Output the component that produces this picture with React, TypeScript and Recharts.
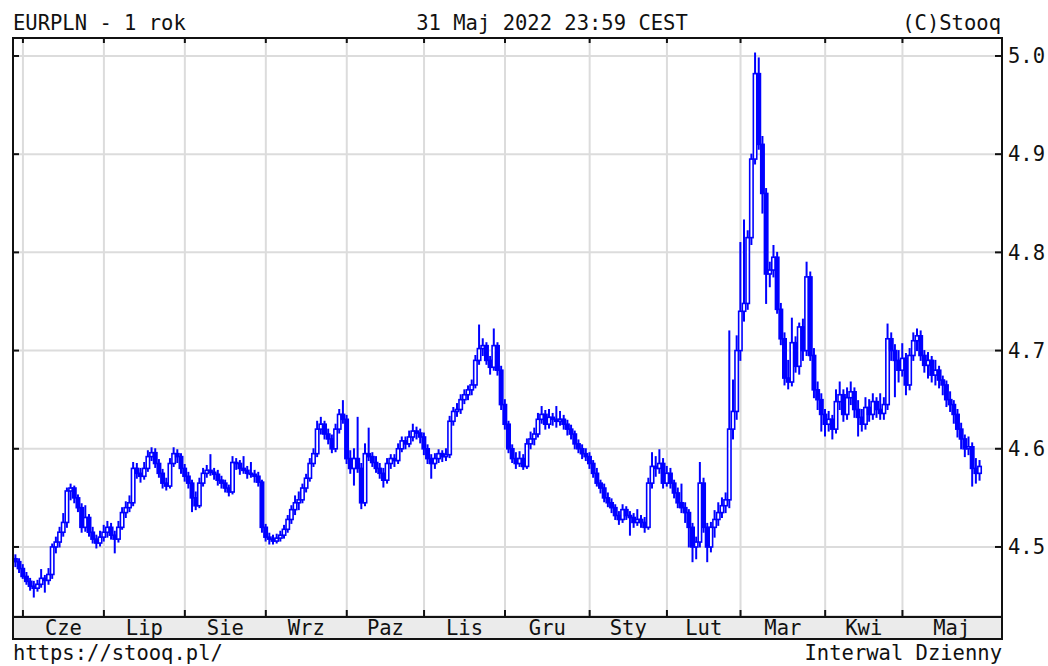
import React from "react";
import { ComposedChart, Bar, XAxis, YAxis, CartesianGrid, ReferenceLine } from "recharts";

type Row = [number, number, number, number]; // open, high, low, close

const may21: Row[] = [
  [4.488, 4.492, 4.480, 4.485], [4.485, 4.488, 4.474, 4.478],
];
const jun21: Row[] = [
  [4.478, 4.482, 4.468, 4.470], [4.470, 4.474, 4.462, 4.465], [4.465, 4.468, 4.456, 4.460], [4.460, 4.465, 4.449, 4.458],
  [4.458, 4.466, 4.455, 4.462], [4.462, 4.477, 4.459, 4.468], [4.468, 4.471, 4.454, 4.466], [4.466, 4.478, 4.462, 4.472],
  [4.472, 4.503, 4.468, 4.500], [4.500, 4.510, 4.494, 4.505], [4.505, 4.520, 4.500, 4.515], [4.515, 4.534, 4.511, 4.525],
  [4.525, 4.560, 4.520, 4.557], [4.557, 4.564, 4.548, 4.560], [4.560, 4.562, 4.545, 4.550], [4.550, 4.553, 4.536, 4.540],
  [4.540, 4.544, 4.515, 4.520], [4.520, 4.542, 4.516, 4.530], [4.530, 4.533, 4.511, 4.515], [4.515, 4.520, 4.504, 4.508],
  [4.508, 4.512, 4.499, 4.504], [4.504, 4.516, 4.501, 4.510],
];
const jul21: Row[] = [
  [4.510, 4.522, 4.506, 4.515], [4.515, 4.526, 4.510, 4.520], [4.520, 4.524, 4.508, 4.512], [4.512, 4.516, 4.494, 4.508],
  [4.508, 4.526, 4.505, 4.520], [4.520, 4.540, 4.518, 4.535], [4.535, 4.546, 4.530, 4.540], [4.540, 4.552, 4.536, 4.545],
  [4.545, 4.586, 4.542, 4.580], [4.580, 4.585, 4.570, 4.575], [4.575, 4.580, 4.566, 4.572], [4.572, 4.586, 4.569, 4.580],
  [4.580, 4.598, 4.577, 4.592], [4.592, 4.601, 4.588, 4.596], [4.596, 4.600, 4.581, 4.585], [4.585, 4.589, 4.571, 4.575],
  [4.575, 4.579, 4.560, 4.565], [4.565, 4.570, 4.558, 4.562], [4.562, 4.590, 4.560, 4.585], [4.585, 4.601, 4.582, 4.595],
  [4.595, 4.599, 4.586, 4.592], [4.592, 4.595, 4.575, 4.580],
];
const aug21: Row[] = [
  [4.580, 4.584, 4.567, 4.572], [4.572, 4.576, 4.560, 4.565], [4.565, 4.568, 4.536, 4.550], [4.550, 4.556, 4.538, 4.542],
  [4.542, 4.570, 4.540, 4.565], [4.565, 4.580, 4.562, 4.575], [4.575, 4.583, 4.571, 4.578], [4.578, 4.594, 4.573, 4.576],
  [4.576, 4.580, 4.569, 4.574], [4.574, 4.578, 4.563, 4.568], [4.568, 4.572, 4.560, 4.565], [4.565, 4.568, 4.556, 4.560],
  [4.560, 4.563, 4.552, 4.556], [4.556, 4.592, 4.554, 4.586], [4.586, 4.590, 4.579, 4.585], [4.585, 4.588, 4.574, 4.580],
  [4.580, 4.592, 4.575, 4.578], [4.578, 4.582, 4.570, 4.575], [4.575, 4.586, 4.571, 4.574], [4.574, 4.578, 4.566, 4.572],
  [4.572, 4.576, 4.562, 4.566], [4.566, 4.568, 4.515, 4.520],
];
const sep21: Row[] = [
  [4.520, 4.523, 4.506, 4.510], [4.510, 4.514, 4.503, 4.508], [4.508, 4.512, 4.503, 4.506], [4.506, 4.513, 4.504, 4.509],
  [4.509, 4.516, 4.506, 4.512], [4.512, 4.522, 4.509, 4.518], [4.518, 4.532, 4.515, 4.528], [4.528, 4.542, 4.524, 4.538],
  [4.538, 4.552, 4.533, 4.545], [4.545, 4.556, 4.538, 4.548], [4.548, 4.564, 4.545, 4.560], [4.560, 4.574, 4.556, 4.570],
  [4.570, 4.590, 4.567, 4.585], [4.585, 4.600, 4.582, 4.595], [4.595, 4.628, 4.592, 4.620], [4.620, 4.632, 4.615, 4.625],
  [4.625, 4.628, 4.610, 4.615], [4.615, 4.620, 4.605, 4.610], [4.610, 4.614, 4.596, 4.600], [4.600, 4.625, 4.597, 4.620],
  [4.620, 4.640, 4.616, 4.635], [4.635, 4.649, 4.626, 4.630],
];
const oct21: Row[] = [
  [4.630, 4.634, 4.585, 4.590], [4.590, 4.598, 4.575, 4.580], [4.580, 4.600, 4.563, 4.590], [4.590, 4.632, 4.576, 4.580],
  [4.580, 4.585, 4.539, 4.545], [4.545, 4.605, 4.542, 4.595], [4.595, 4.621, 4.588, 4.592], [4.592, 4.596, 4.582, 4.586],
  [4.586, 4.592, 4.576, 4.580], [4.580, 4.585, 4.570, 4.575], [4.575, 4.580, 4.561, 4.568], [4.568, 4.590, 4.565, 4.585],
  [4.585, 4.594, 4.580, 4.590], [4.590, 4.594, 4.582, 4.588], [4.588, 4.605, 4.585, 4.600], [4.600, 4.612, 4.597, 4.608],
  [4.608, 4.612, 4.600, 4.605], [4.605, 4.618, 4.602, 4.612], [4.612, 4.625, 4.608, 4.618], [4.618, 4.622, 4.610, 4.616],
  [4.616, 4.620, 4.606, 4.612],
];
const nov21: Row[] = [
  [4.612, 4.616, 4.594, 4.600], [4.600, 4.604, 4.585, 4.590], [4.590, 4.594, 4.570, 4.585], [4.585, 4.595, 4.580, 4.590],
  [4.590, 4.599, 4.586, 4.595], [4.595, 4.598, 4.587, 4.592], [4.592, 4.600, 4.588, 4.594], [4.594, 4.633, 4.591, 4.628],
  [4.628, 4.642, 4.624, 4.638], [4.638, 4.646, 4.633, 4.640], [4.640, 4.655, 4.636, 4.650], [4.650, 4.660, 4.646, 4.655],
  [4.655, 4.664, 4.650, 4.660], [4.660, 4.670, 4.655, 4.665], [4.665, 4.695, 4.662, 4.690], [4.690, 4.726, 4.686, 4.702],
  [4.702, 4.712, 4.695, 4.705], [4.705, 4.708, 4.686, 4.690], [4.690, 4.694, 4.676, 4.683], [4.683, 4.722, 4.680, 4.705],
  [4.705, 4.708, 4.675, 4.680], [4.680, 4.684, 4.640, 4.645],
];
const dec21: Row[] = [
  [4.645, 4.650, 4.620, 4.625], [4.625, 4.628, 4.596, 4.600], [4.600, 4.604, 4.586, 4.590], [4.590, 4.596, 4.580, 4.585],
  [4.585, 4.597, 4.582, 4.590], [4.590, 4.594, 4.579, 4.582], [4.582, 4.610, 4.580, 4.605], [4.605, 4.617, 4.600, 4.610],
  [4.610, 4.621, 4.604, 4.615], [4.615, 4.636, 4.612, 4.630], [4.630, 4.643, 4.626, 4.635], [4.635, 4.639, 4.620, 4.625],
  [4.625, 4.640, 4.621, 4.632], [4.632, 4.636, 4.624, 4.630], [4.630, 4.643, 4.622, 4.628], [4.628, 4.638, 4.624, 4.630],
  [4.630, 4.634, 4.620, 4.625], [4.625, 4.629, 4.614, 4.620], [4.620, 4.624, 4.610, 4.615], [4.615, 4.618, 4.600, 4.605],
  [4.605, 4.609, 4.596, 4.600], [4.600, 4.604, 4.590, 4.595], [4.595, 4.600, 4.588, 4.592],
];
const jan22: Row[] = [
  [4.592, 4.596, 4.580, 4.585], [4.585, 4.588, 4.571, 4.575], [4.575, 4.580, 4.562, 4.565], [4.565, 4.568, 4.555, 4.560],
  [4.560, 4.564, 4.546, 4.550], [4.550, 4.555, 4.541, 4.545], [4.545, 4.549, 4.535, 4.540], [4.540, 4.543, 4.528, 4.532],
  [4.532, 4.536, 4.523, 4.528], [4.528, 4.543, 4.525, 4.538], [4.538, 4.541, 4.528, 4.532], [4.532, 4.536, 4.512, 4.530],
  [4.530, 4.534, 4.520, 4.525], [4.525, 4.538, 4.522, 4.528], [4.528, 4.532, 4.520, 4.525], [4.525, 4.530, 4.515, 4.520],
  [4.520, 4.570, 4.518, 4.565], [4.565, 4.596, 4.560, 4.582], [4.582, 4.592, 4.572, 4.580], [4.580, 4.599, 4.575, 4.585],
  [4.585, 4.590, 4.560, 4.565],
];
const feb22: Row[] = [
  [4.565, 4.582, 4.562, 4.575], [4.575, 4.580, 4.560, 4.565], [4.565, 4.568, 4.550, 4.555], [4.555, 4.560, 4.540, 4.545],
  [4.545, 4.564, 4.535, 4.540], [4.540, 4.545, 4.525, 4.535], [4.535, 4.538, 4.500, 4.520], [4.520, 4.524, 4.485, 4.500],
  [4.500, 4.510, 4.488, 4.505], [4.505, 4.586, 4.500, 4.565], [4.565, 4.570, 4.515, 4.520], [4.520, 4.524, 4.485, 4.500],
  [4.500, 4.525, 4.495, 4.520], [4.520, 4.537, 4.510, 4.528], [4.528, 4.545, 4.522, 4.535], [4.535, 4.550, 4.530, 4.542],
  [4.542, 4.555, 4.535, 4.548], [4.548, 4.720, 4.540, 4.620], [4.620, 4.670, 4.610, 4.638], [4.638, 4.715, 4.630, 4.700],
];
const mar22: Row[] = [
  [4.700, 4.810, 4.690, 4.740], [4.740, 4.833, 4.730, 4.748], [4.748, 4.822, 4.742, 4.815], [4.815, 4.900, 4.808, 4.895],
  [4.895, 5.003, 4.890, 4.982], [4.982, 4.998, 4.905, 4.910], [4.910, 4.918, 4.840, 4.860], [4.860, 4.865, 4.748, 4.778],
  [4.778, 4.790, 4.765, 4.782], [4.782, 4.807, 4.775, 4.795], [4.795, 4.800, 4.738, 4.742], [4.742, 4.748, 4.706, 4.712],
  [4.712, 4.718, 4.665, 4.672], [4.672, 4.690, 4.661, 4.668], [4.668, 4.733, 4.664, 4.708], [4.708, 4.714, 4.678, 4.684],
  [4.684, 4.728, 4.676, 4.724], [4.724, 4.732, 4.690, 4.700], [4.700, 4.790, 4.695, 4.775], [4.775, 4.780, 4.690, 4.695],
  [4.695, 4.702, 4.652, 4.660], [4.660, 4.668, 4.640, 4.650], [4.650, 4.656, 4.618, 4.635],
];
const apr22: Row[] = [
  [4.635, 4.640, 4.613, 4.625], [4.625, 4.638, 4.618, 4.630], [4.630, 4.634, 4.610, 4.620], [4.620, 4.660, 4.616, 4.648],
  [4.648, 4.668, 4.640, 4.655], [4.655, 4.660, 4.628, 4.635], [4.635, 4.662, 4.630, 4.652], [4.652, 4.668, 4.645, 4.658],
  [4.658, 4.662, 4.632, 4.640], [4.640, 4.649, 4.613, 4.632], [4.632, 4.640, 4.618, 4.625], [4.625, 4.652, 4.620, 4.642],
  [4.642, 4.650, 4.628, 4.635], [4.635, 4.656, 4.630, 4.648], [4.648, 4.652, 4.632, 4.640], [4.640, 4.656, 4.630, 4.636],
  [4.636, 4.652, 4.630, 4.645], [4.645, 4.727, 4.640, 4.712], [4.712, 4.718, 4.690, 4.700], [4.700, 4.706, 4.653, 4.690],
  [4.690, 4.700, 4.668, 4.680],
];
const may22: Row[] = [
  [4.680, 4.707, 4.674, 4.692], [4.692, 4.697, 4.655, 4.665], [4.665, 4.702, 4.660, 4.695], [4.695, 4.718, 4.690, 4.710],
  [4.710, 4.722, 4.700, 4.715], [4.715, 4.720, 4.690, 4.695], [4.695, 4.700, 4.678, 4.685], [4.685, 4.698, 4.672, 4.690],
  [4.690, 4.694, 4.668, 4.675], [4.675, 4.690, 4.665, 4.680], [4.680, 4.684, 4.662, 4.670], [4.670, 4.674, 4.655, 4.665],
  [4.665, 4.669, 4.643, 4.650], [4.650, 4.658, 4.638, 4.645], [4.645, 4.649, 4.626, 4.635], [4.635, 4.640, 4.612, 4.620],
  [4.620, 4.626, 4.600, 4.610], [4.610, 4.614, 4.592, 4.600], [4.600, 4.612, 4.594, 4.602], [4.602, 4.606, 4.562, 4.580],
  [4.580, 4.590, 4.565, 4.575], [4.575, 4.588, 4.568, 4.582],
];

const monthLabels = ["Cze", "Lip", "Sie", "Wrz", "Paz", "Lis", "Gru", "Sty", "Lut", "Mar", "Kwi", "Maj"];
const monthRows: Row[][] = [jun21, jul21, aug21, sep21, oct21, nov21, dec21, jan22, feb22, mar22, apr22, may22];
const yTicks = [4.5, 4.6, 4.7, 4.8, 4.9, 5.0];

const BLUE = "#0000ff";
const GRID = "#dcdcdc";
const FONT = "'DejaVu Sans Mono', monospace";
const FS = 20.5;
const X_DOMAIN: [number, number] = [-0.7, 267.78];
const Y_DOMAIN: [number, number] = [4.4297, 5.0183];

type Datum = { i: number; o: number; h: number; l: number; c: number; hl: [number, number] };
const data: Datum[] = [];
const monthStarts: number[] = [];
let counter = 0;
[may21, ...monthRows].forEach((rows, m) => {
  if (m > 0) monthStarts.push(counter);
  rows.forEach(([o, h, l, c]) => {
    data.push({ i: counter, o, h, l, c, hl: [l, h] });
    counter += 1;
  });
});
const monthMids = monthStarts.map((s, k) =>
  (s + (k + 1 < monthStarts.length ? monthStarts[k + 1] : X_DOMAIN[1])) / 2
);

const Candle = (props: any) => {
  const { x, y, width, height, payload } = props;
  if (x == null || y == null || !payload) return null;
  const { o, h, l, c } = payload as Datum;
  const top = Math.min(y, y + height);
  const hgt = Math.abs(height);
  const cx = x + width / 2;
  const span = h - l || 1;
  const py = (v: number) => top + ((h - v) / span) * hgt;
  const bTop = py(Math.max(o, c));
  const bBot = py(Math.min(o, c));
  const up = c >= o;
  return (
    <g>
      <line x1={cx} x2={cx} y1={top - 0.5} y2={top + hgt + 0.5} stroke={BLUE} strokeWidth={2} />
      <rect
        x={cx - 1.7}
        y={bTop}
        width={3.4}
        height={Math.max(bBot - bTop, 1)}
        fill={up ? "#ffffff" : BLUE}
        stroke={BLUE}
        strokeWidth={1.6}
      />
    </g>
  );
};

const vGridShape = (p: any) => (
  <line x1={p.x1} x2={p.x2} y1={p.y1} y2={p.y2} stroke={GRID} strokeWidth={2} />
);

const vTickShape = (p: any) => {
  const y1 = Math.min(p.y1, p.y2);
  const y2 = Math.max(p.y1, p.y2);
  return (
    <g>
      <line x1={p.x1} x2={p.x1} y1={y1} y2={y1 + 5} stroke="#111" strokeWidth={2} />
      <line x1={p.x1} x2={p.x1} y1={y2 - 6} y2={y2} stroke="#111" strokeWidth={2} />
    </g>
  );
};

const hTickShape = (p: any) => {
  const x1 = Math.min(p.x1, p.x2);
  const x2 = Math.max(p.x1, p.x2);
  return (
    <g>
      <line x1={x1} x2={x1 + 6} y1={p.y1} y2={p.y1} stroke="#111" strokeWidth={2} />
      <line x1={x2 - 6} x2={x2} y1={p.y1} y2={p.y1} stroke="#111" strokeWidth={2} />
    </g>
  );
};

const textStyle = { fontFamily: FONT, fontSize: FS, fill: "#111" } as const;

export default function App() {
  return (
    <div style={{ position: "absolute", left: 0, top: 0, width: 1048, height: 666, background: "#fff" }}>
      <svg width={1048} height={666} style={{ position: "absolute", left: 0, top: 0 }}>
        <rect x={13} y={617} width={989} height={22} fill="#ebebeb" />
        <text x={13} y={30} {...textStyle}>EURPLN - 1 rok</text>
        <text x={552} y={30} textAnchor="middle" {...textStyle}>31 Maj 2022 23:59 CEST</text>
        <text x={1001} y={30} textAnchor="end" {...textStyle}>(C)Stooq</text>
        <text x={13} y={660} {...textStyle}>https://stooq.pl/</text>
        <text x={1002} y={660} textAnchor="end" {...textStyle}>Interwal Dzienny</text>
      </svg>
      <div style={{ position: "absolute", left: 0, top: 0 }}>
        <ComposedChart
          width={1048}
          height={666}
          data={data}
          margin={{ top: 38, right: 0, bottom: 27, left: 13 }}
        >
          <CartesianGrid stroke={GRID} strokeWidth={2} vertical={false} />
          <XAxis
            xAxisId={0}
            type="number"
            dataKey="i"
            domain={X_DOMAIN}
            allowDataOverflow
            ticks={monthStarts}
            tick={false}
            tickLine={false}
            axisLine={false}
            height={0}
          />
          <XAxis
            xAxisId="lbl"
            type="number"
            dataKey="i"
            domain={X_DOMAIN}
            allowDataOverflow
            ticks={monthMids}
            interval={0}
            tickFormatter={(_v: number, k: number) => monthLabels[k] ?? ""}
            tickLine={false}
            axisLine={false}
            tickSize={2}
            tickMargin={2}
            height={23}
            tick={{ fontFamily: FONT, fontSize: FS, fill: "#111" }}
          />
          <YAxis
            orientation="right"
            type="number"
            domain={Y_DOMAIN}
            allowDataOverflow
            ticks={yTicks}
            interval={0}
            width={47}
            tickLine={false}
            axisLine={false}
            tickSize={5}
            tickMargin={2}
            tickFormatter={(v: number) => v.toFixed(1)}
            tick={{ fontFamily: FONT, fontSize: FS, fill: "#111" }}
          />
          {monthStarts.map((s) => (
            <ReferenceLine key={`g${s}`} x={s} xAxisId={0} shape={vGridShape} {...({ zIndex: -100 } as any)} />
          ))}
          <Bar
            dataKey="hl"
            xAxisId={0}
            barSize={4}
            shape={Candle}
            isAnimationActive={false}
          />
          {monthStarts.map((s) => (
            <ReferenceLine key={`v${s}`} x={s} xAxisId={0} shape={vTickShape} />
          ))}
          {yTicks.map((t) => (
            <ReferenceLine key={`h${t}`} y={t} xAxisId={0} shape={hTickShape} />
          ))}
        </ComposedChart>
      </div>
      <svg width={1048} height={666} style={{ position: "absolute", left: 0, top: 0, pointerEvents: "none" }}>
        <rect x={13} y={38} width={989} height={601} fill="none" stroke="#111" strokeWidth={2} />
        <line x1={13} x2={1002} y1={617} y2={617} stroke="#111" strokeWidth={2} />
      </svg>
    </div>
  );
}
